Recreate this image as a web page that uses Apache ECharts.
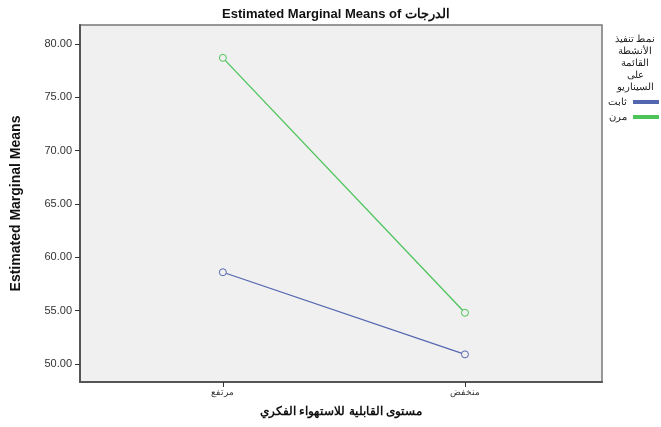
<!DOCTYPE html>
<html>
<head>
<meta charset="utf-8">
<script src="https://cdn.jsdelivr.net/npm/echarts@6/dist/echarts.min.js"></script>
<style>html,body{margin:0;padding:0;background:#fff;}#c{width:661px;height:427px;}</style>
</head>
<body>
<div id="c"></div>
<script>
const categories = ['مرتفع', 'منخفض'];
const seriesNames = ['ثابت', 'مرن'];
const fixedValues = [58.6, 50.9];
const flexibleValues = [78.7, 54.8];
const yTicks = [50, 55, 60, 65, 70, 75, 80];
const catIdx = [0, 1];
const legendTitle = 'نمط تنفيذ\nالأنشطة\nالقائمة\nعلى\nالسيناريو';

const chart = echarts.init(document.getElementById('c'));
const fam = 'Liberation Sans, Arial, sans-serif';
const blue = '#5566b0', green = '#4cc45a';
chart.setOption({
  animation: false,
  backgroundColor: '#ffffff',
  title: [
    { text: 'Estimated Marginal Means of الدرجات', left: 331, top: 3, textAlign: 'center',
      textStyle: { fontFamily: fam, fontSize: 13, fontWeight: 'bold', color: '#111' } },
    { text: legendTitle, left: 630, top: 28, textAlign: 'center',
      textStyle: { fontFamily: fam, fontSize: 10, fontWeight: 'normal', color: '#222', lineHeight: 12 } }
  ],
  legend: {
    orient: 'vertical', left: 603, top: 92, align: 'right',
    itemWidth: 24, itemHeight: 2, itemGap: 5, icon: 'rect',
    textStyle: { fontFamily: fam, fontSize: 10, color: '#222', padding: [0, 2, 0, 0] },
    data: seriesNames
  },
  grid: { left: 80, right: 59, top: 25, bottom: 45, containLabel: false, outerBoundsMode: 'none',
    show: true, backgroundColor: '#f0f0f0', borderColor: '#777', borderWidth: 1.5 },
  xAxis: {
    type: 'value', min: -0.59, max: 1.566,
    name: 'مستوى القابلية للاستهواء الفكري', nameLocation: 'middle', nameGap: 24,
    nameTextStyle: { fontFamily: fam, fontSize: 12, fontWeight: 'bold', color: '#111' },
    axisLine: { show: true, onZero: false, lineStyle: { color: '#555', width: 2 } },
    axisTick: { show: true, length: 5, customValues: catIdx, lineStyle: { color: '#333' } },
    axisLabel: { customValues: catIdx, formatter: v => categories[Math.round(v)], margin: 6,
      fontFamily: fam, fontSize: 9, color: '#333' },
    splitLine: { show: false }
  },
  yAxis: {
    type: 'value', min: 48.31, max: 81.78,
    name: 'Estimated Marginal Means', nameLocation: 'middle', nameGap: 57, nameRotate: 90,
    nameTextStyle: { fontFamily: 'Liberation Sans Narrow, Arial Narrow, ' + fam, fontSize: 14, fontWeight: 'bold', color: '#111' },
    axisLine: { show: true, onZero: false, lineStyle: { color: '#555', width: 2 } },
    axisTick: { show: true, length: 5, customValues: yTicks, lineStyle: { color: '#333' } },
    axisLabel: { customValues: yTicks, formatter: v => v.toFixed(2), margin: 8,
      fontFamily: fam, fontSize: 11, color: '#333' },
    splitLine: { show: false }
  },
  series: [
    { name: seriesNames[0], type: 'line', data: catIdx.map((i) => [i, fixedValues[i]]),
      symbol: 'circle', symbolSize: 7, lineStyle: { width: 1.3, color: blue },
      itemStyle: { color: '#f0f0f0', borderColor: blue, borderWidth: 1 } },
    { name: seriesNames[1], type: 'line', data: catIdx.map((i) => [i, flexibleValues[i]]),
      symbol: 'circle', symbolSize: 7, lineStyle: { width: 1.3, color: green },
      itemStyle: { color: '#f0f0f0', borderColor: green, borderWidth: 1 } }
  ]
});
</script>
</body>
</html>
